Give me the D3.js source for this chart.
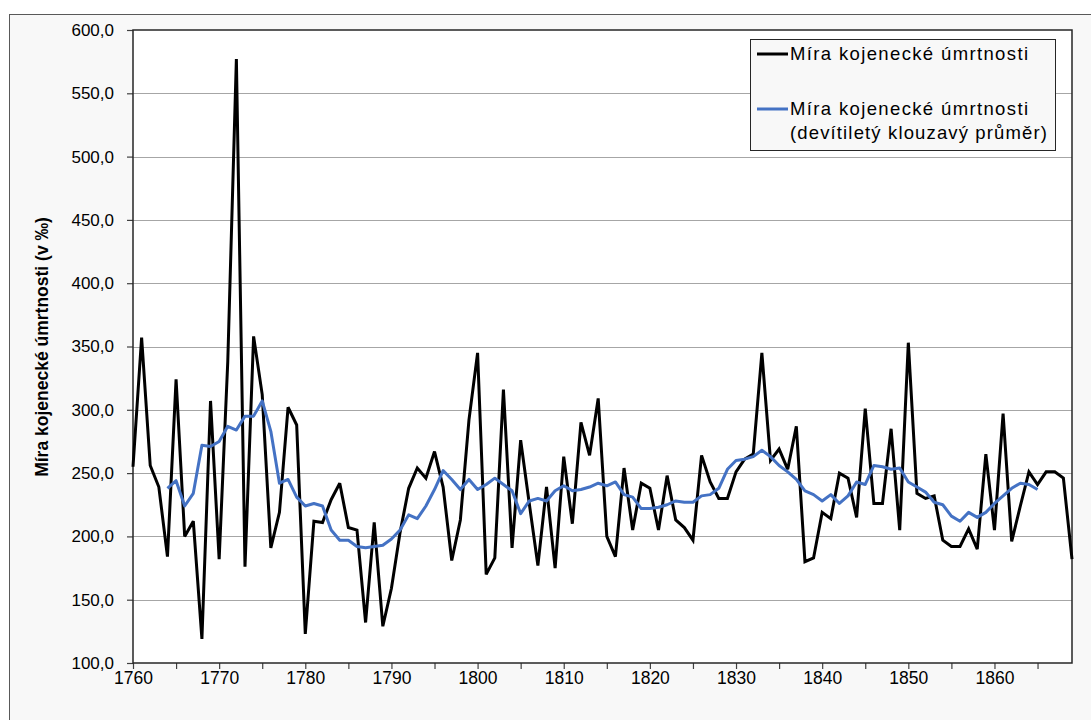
<!DOCTYPE html>
<html>
<head>
<meta charset="utf-8">
<script src="https://cdn.jsdelivr.net/npm/d3@7"></script>
<style>
  body { margin: 0; background: #fff; }
  svg { display: block; font-family: "Liberation Sans", Arial, sans-serif; }
</style>
</head>
<body>
<svg id="chart" width="1091" height="720"></svg>
<script>
// rate per year, 1760 - 1869
var firstYear = 1760;
var mortality = [
    255, 357, 256, 239, 184, 324, 200, 212, 119, 307,
    182, 338, 577, 176, 358, 312, 191, 219, 302, 288,
    123, 212, 211, 229, 242, 207, 205, 132, 211, 129,
    159, 203, 238, 254, 246, 267, 239, 181, 213, 292,
    345, 170, 183, 316, 191, 276, 226, 177, 239, 175,
    263, 210, 290, 264, 309, 200, 184, 254, 205, 242,
    238, 205, 248, 213, 207, 197, 264, 243, 230, 230,
    251, 261, 265, 345, 260, 269, 253, 287, 180, 183,
    219, 214, 250, 246, 215, 301, 226, 226, 285, 205,
    353, 234, 230, 232, 197, 192, 192, 206, 190, 265,
    205, 297, 196, 224, 251, 241, 251, 251, 246, 182
];

// nine-year moving average, 1764 - 1865
var avgFirstYear = 1764;
var mortalityAvg = [
    238, 244, 224, 234, 272, 271, 275, 287, 284, 295,
    295, 307, 283, 242, 245, 231, 224, 226, 224, 205,
    197, 197, 192, 191, 192, 193, 198, 205, 217, 214,
    224, 237, 252, 245, 237, 245, 237, 241, 246, 241,
    236, 218, 228, 230, 228, 236, 240, 236, 237, 239,
    242, 240, 243, 233, 231, 222, 222, 223, 225, 228,
    227, 227, 232, 233, 238, 253, 260, 261, 263, 268,
    263, 256, 251, 245, 236, 233, 228, 233, 226, 232,
    243, 241, 256, 255, 253, 254, 243, 239, 235, 227,
    225, 216, 212, 219, 215, 219, 226, 232, 238, 242,
    241, 237
];

var yTicks = [100, 150, 200, 250, 300, 350, 400, 450, 500, 550, 600];
var xTicks = [1760, 1765, 1770, 1775, 1780, 1785, 1790, 1795, 1800, 1805, 1810,
    1815, 1820, 1825, 1830, 1835, 1840, 1845, 1850, 1855, 1860, 1865];
var xLabels = [1760, 1770, 1780, 1790, 1800, 1810, 1820, 1830, 1840, 1850, 1860];

var seriesNames = ["Míra kojenecké úmrtnosti", "Míra kojenecké úmrtnosti", "(devítiletý klouzavý průměr)"];
var yTitle = "Míra kojenecké úmrtnosti (v ‰)";

var plot = {left: 133, top: 30, right: 1072, bottom: 663};

var svg = d3.select("#chart");

// chart area
svg.append("rect")
    .attr("x", 9.5).attr("y", 14.5)
    .attr("width", 1100).attr("height", 720)
    .attr("fill", "#f8f8f8")
    .attr("stroke", "#595959");

svg.append("rect")
    .attr("x", plot.left).attr("y", plot.top)
    .attr("width", plot.right - plot.left)
    .attr("height", plot.bottom - plot.top)
    .attr("fill", "#fff");

var x = d3.scaleLinear().domain([1760, 1869]).range([plot.left, plot.right]);
var y = d3.scaleLinear().domain([100, 600]).range([plot.bottom, plot.top]);

// gridlines
svg.append("g")
    .selectAll("line")
    .data(yTicks.slice(1, -1))
    .enter()
    .append("line")
        .attr("x1", plot.left).attr("x2", plot.right)
        .attr("y1", function(d) { return Math.round(y(d)) + 0.5; })
        .attr("y2", function(d) { return Math.round(y(d)) + 0.5; })
        .attr("stroke", "#a6a6a6")
        .attr("stroke-width", 1.2);

var commaFormat = function(d) {
    return d3.format(".1f")(d).replace(".", ",");
};

var yAxis = svg.append("g")
    .attr("transform", "translate(" + plot.left + ",0)")
    .call(d3.axisLeft(y).tickValues(yTicks).tickSize(6).tickPadding(13).tickFormat(commaFormat));

var xAxis = svg.append("g")
    .attr("transform", "translate(0," + plot.bottom + ")")
    .call(d3.axisBottom(x).tickValues(xTicks).tickSize(6).tickPadding(3)
        .tickFormat(function(d) { return xLabels.indexOf(d) >= 0 ? d : ""; }));

[yAxis, xAxis].forEach(function(a) {
    a.select(".domain").remove();
    a.selectAll(".tick line").attr("stroke", "#404040").attr("stroke-width", 1.2);
    a.selectAll(".tick text")
        .attr("fill", "#000")
        .style("font-family", "'Liberation Sans', Arial, sans-serif");
});
yAxis.selectAll(".tick text").style("font-size", "17px");
xAxis.selectAll(".tick text").style("font-size", "17.5px");

// plot border
svg.append("rect")
    .attr("x", plot.left).attr("y", plot.top)
    .attr("width", plot.right - plot.left)
    .attr("height", plot.bottom - plot.top)
    .attr("fill", "none")
    .attr("stroke", "#262626")
    .attr("stroke-width", 1.5);

var line = d3.line()
    .x(function(d) { return x(d.year); })
    .y(function(d) { return y(d.value); });

var rawData = mortality.map(function(v, i) { return {year: firstYear + i, value: v}; });
var avgData = mortalityAvg.map(function(v, i) { return {year: avgFirstYear + i, value: v}; });

svg.append("path")
    .datum(rawData)
    .attr("d", line)
    .attr("fill", "none")
    .attr("stroke", "#000")
    .attr("stroke-width", 3)
    .attr("stroke-linejoin", "miter")
    .attr("stroke-miterlimit", 3);

svg.append("path")
    .datum(avgData)
    .attr("d", line)
    .attr("fill", "none")
    .attr("stroke", "#4472c4")
    .attr("stroke-width", 3)
    .attr("stroke-linejoin", "round");

// y axis title
svg.append("text")
    .attr("transform", "translate(48,347) rotate(-90)")
    .attr("text-anchor", "middle")
    .style("font-size", "17.5px")
    .style("font-weight", "bold")
    .text(yTitle);

// legend
var legend = svg.append("g");
legend.append("rect")
    .attr("x", 750.5).attr("y", 39.5)
    .attr("width", 305).attr("height", 111)
    .attr("fill", "#f8f8f8")
    .attr("stroke", "#262626");

legend.append("line")
    .attr("x1", 757).attr("x2", 788).attr("y1", 54).attr("y2", 54)
    .attr("stroke", "#000").attr("stroke-width", 3);
legend.append("line")
    .attr("x1", 757).attr("x2", 788).attr("y1", 109).attr("y2", 109)
    .attr("stroke", "#4472c4").attr("stroke-width", 3);

var legendRows = [
    {text: seriesNames[0], y: 60, len: 238},
    {text: seriesNames[1], y: 115, len: 238},
    {text: seriesNames[2], y: 139, len: 257}
];
legend.selectAll("text.item")
    .data(legendRows)
    .enter()
    .append("text")
        .attr("class", "item")
        .attr("x", 790)
        .attr("y", function(d) { return d.y; })
        .attr("textLength", function(d) { return d.len; })
        .attr("lengthAdjust", "spacing")
        .style("font-size", "18.5px")
        .text(function(d) { return d.text; });
</script>
</body>
</html>
